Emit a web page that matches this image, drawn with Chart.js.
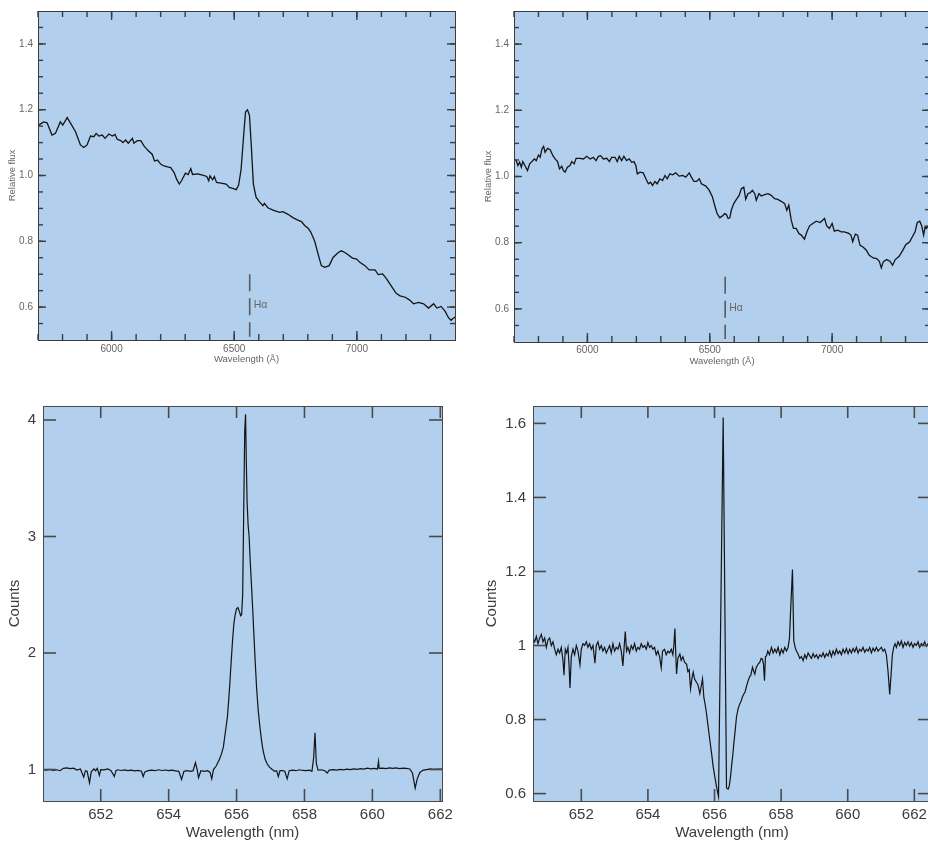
<!DOCTYPE html>
<html><head><meta charset="utf-8">
<script src="https://cdn.jsdelivr.net/npm/chart.js@4/dist/chart.umd.min.js"></script>
<style>
html,body{margin:0;padding:0;background:#fff;overflow:hidden;width:928px;height:845px;position:relative;}
.box{position:absolute;}
canvas{display:block;}
</style></head><body>
<div class="box" style="left:0;top:0"><canvas id="c1" width="464" height="372"></canvas></div>
<div class="box" style="left:464px;top:0"><canvas id="c2" width="475" height="372"></canvas></div>
<div class="box" style="left:0;top:390px"><canvas id="c3" width="464" height="455"></canvas></div>
<div class="box" style="left:464px;top:390px"><canvas id="c4" width="475" height="455"></canvas></div>
<script>
// ---------- DATA ----------
// Top-left: low-resolution spectrum (Angstrom, relative flux)
const tlWave = [5696,5703,5723,5737,5757,5771,5791,5801,5819,5832,
 5853,5873,5887,5900,5914,5928,5937,5948,5962,5973,
 5989,6003,6014,6023,6037,6046,6057,6068,6085,6091,
 6105,6119,6132,6146,6166,6175,6187,6201,6214,6228,
 6241,6255,6265,6276,6285,6301,6312,6323,6330,6351,
 6371,6388,6396,6401,6412,6419,6428,6446,6467,6480,
 6494,6508,6518,6528,6538,6546,6554,6562,6569,6578,
 6589,6603,6617,6623,6637,6658,6685,6699,6719,6739,
 6757,6774,6787,6801,6812,6828,6842,6855,6869,6887,
 6903,6924,6937,6951,6964,6982,6999,7012,7033,7050,
 7074,7087,7105,7121,7142,7160,7176,7197,7214,7231,
 7251,7272,7292,7313,7326,7343,7360,7374,7384,7394,
 7402];
const tlFlux = [1.173,1.153,1.163,1.160,1.123,1.128,1.163,1.153,1.176,1.160,
 1.133,1.093,1.085,1.093,1.120,1.118,1.128,1.120,1.123,1.113,
 1.126,1.120,1.125,1.110,1.106,1.100,1.108,1.098,1.113,1.098,
 1.106,1.106,1.090,1.078,1.064,1.044,1.047,1.034,1.029,1.026,
 1.024,1.009,0.989,0.974,0.984,1.007,1.003,1.021,1.003,1.005,
 1.001,0.997,0.984,0.999,0.987,0.997,0.979,0.977,0.974,0.964,
 0.961,0.957,0.971,1.019,1.118,1.193,1.200,1.183,1.098,0.974,
 0.934,0.920,0.908,0.915,0.902,0.895,0.888,0.890,0.882,0.872,
 0.865,0.860,0.848,0.840,0.828,0.800,0.761,0.726,0.721,0.726,
 0.751,0.766,0.771,0.766,0.759,0.749,0.746,0.736,0.726,0.713,
 0.713,0.699,0.701,0.686,0.662,0.642,0.634,0.630,0.622,0.610,
 0.614,0.610,0.597,0.610,0.597,0.602,0.587,0.567,0.560,0.567,
 0.570];

// Top-right: low-resolution spectrum
const trWave = [5701,5709,5716,5723,5730,5736,5746,5755,5764,5773,
 5783,5791,5800,5807,5814,5821,5827,5837,5848,5859,
 5868,5878,5886,5895,5902,5909,5918,5929,5936,5946,
 5954,5970,5984,5997,6011,6024,6035,6045,6054,6065,
 6079,6090,6099,6113,6122,6130,6140,6149,6160,6171,
 6181,6190,6198,6204,6215,6228,6239,6249,6258,6266,
 6276,6285,6296,6307,6317,6326,6337,6348,6361,6375,
 6389,6402,6416,6425,6435,6446,6457,6466,6484,6498,
 6511,6520,6530,6541,6552,6561,6568,6575,6582,6588,
 6598,6609,6620,6629,6639,6647,6656,6666,6674,6684,
 6690,6701,6711,6724,6738,6751,6765,6778,6792,6806,
 6815,6823,6833,6842,6853,6864,6874,6887,6897,6908,
 6921,6935,6951,6969,6978,6989,7000,7009,7023,7037,
 7050,7068,7077,7084,7095,7104,7114,7125,7139,7152,
 7168,7182,7193,7201,7209,7223,7236,7247,7258,7274,
 7288,7301,7317,7328,7339,7348,7358,7366,7374,7380,
 7385,7398];
const trFlux = [1.053,1.048,1.033,1.043,1.028,1.045,1.031,1.018,1.038,1.045,
 1.053,1.048,1.065,1.058,1.083,1.091,1.073,1.085,1.081,1.063,
 1.053,1.045,1.023,1.031,1.018,1.013,1.028,1.033,1.045,1.038,
 1.055,1.055,1.053,1.061,1.053,1.058,1.048,1.061,1.063,1.053,
 1.055,1.045,1.058,1.058,1.045,1.061,1.048,1.061,1.048,1.053,
 1.043,1.045,1.033,1.008,1.013,1.011,0.993,0.978,0.983,0.973,
 0.985,0.978,0.993,0.988,1.003,0.993,1.008,1.005,1.011,1.001,
 1.003,0.998,1.011,0.998,0.985,0.985,0.993,0.978,0.971,0.958,
 0.938,0.913,0.888,0.875,0.881,0.888,0.885,0.873,0.875,0.898,
 0.918,0.931,0.943,0.963,0.968,0.931,0.948,0.951,0.958,0.948,
 0.928,0.948,0.941,0.945,0.948,0.943,0.933,0.931,0.925,0.918,
 0.898,0.913,0.868,0.843,0.843,0.828,0.823,0.811,0.833,0.851,
 0.858,0.865,0.861,0.873,0.851,0.843,0.858,0.835,0.838,0.833,
 0.833,0.828,0.823,0.803,0.826,0.823,0.792,0.788,0.778,0.762,
 0.754,0.752,0.744,0.724,0.742,0.749,0.744,0.732,0.749,0.759,
 0.776,0.794,0.803,0.818,0.833,0.861,0.865,0.851,0.823,0.848,
 0.843,0.855];

// Bottom-left: high-resolution spectrum (nm, counts)
const blWave = [650.3,650.4,650.5,650.6,650.7,650.8,650.9,651.0,651.1,651.2,
 651.3,651.4,651.45,651.5,651.55,651.6,651.67,651.72,651.8,651.85,
 651.9,651.96,652.0,652.1,652.2,652.3,652.4,652.45,652.5,652.6,
 652.7,652.8,652.9,653.0,653.1,653.2,653.25,653.3,653.4,653.5,
 653.6,653.7,653.8,653.9,654.0,654.1,654.2,654.3,654.38,654.45,
 654.55,654.65,654.72,654.79,654.84,654.88,654.95,655.05,655.15,655.22,
 655.27,655.32,655.4,655.45,655.5,655.55,655.61,655.67,655.73,655.77,
 655.80,655.84,655.88,655.92,655.96,656.00,656.04,656.08,656.12,656.15,
 656.18,656.21,656.24,656.265,656.29,656.31,656.34,656.37,656.40,656.44,
 656.48,656.51,656.55,656.59,656.64,656.69,656.74,656.78,656.84,656.90,
 656.97,657.05,657.12,657.18,657.23,657.28,657.35,657.42,657.49,657.55,
 657.65,657.75,657.85,657.95,658.05,658.15,658.22,658.27,658.31,658.35,
 658.40,658.5,658.6,658.67,658.73,658.85,658.95,659.05,659.15,659.25,
 659.35,659.45,659.55,659.65,659.75,659.85,659.95,660.05,660.15,660.18,
 660.2,660.3,660.4,660.5,660.6,660.7,660.8,660.9,661.0,661.1,
 661.18,661.26,661.32,661.4,661.5,661.6,661.7,661.8,661.9,662.05];
const blCounts = [1.000,0.995,1.002,0.993,0.998,0.990,1.010,1.015,1.008,1.012,
 0.995,1.005,0.97,0.935,0.99,0.985,0.885,0.98,1.005,0.99,
 1.01,0.95,1.00,0.998,1.005,0.992,0.94,0.99,0.998,0.992,
 0.997,0.990,0.995,0.988,0.993,0.985,0.94,0.98,0.99,0.995,
 0.990,0.998,0.992,0.996,0.990,0.995,0.988,0.985,0.915,0.985,
 0.99,0.985,0.99,1.06,1.0,0.93,0.99,0.985,0.99,0.975,
 0.92,1.0,1.03,1.06,1.09,1.13,1.19,1.32,1.45,1.6,
 1.73,1.92,2.10,2.25,2.33,2.38,2.39,2.36,2.32,2.33,
 2.5,3.2,3.9,4.05,3.6,3.30,3.10,3.00,2.80,2.58,
 2.35,2.16,1.92,1.70,1.50,1.36,1.24,1.165,1.09,1.05,
 1.02,1.0,0.985,0.99,0.94,0.99,0.99,0.985,0.92,0.99,
 0.995,0.99,0.998,0.992,0.99,0.995,0.985,1.10,1.315,1.05,
 0.995,0.998,0.99,0.97,0.995,1.0,0.995,1.002,0.998,1.004,
 1.0,1.006,1.002,1.008,1.004,1.012,1.006,1.01,1.005,1.07,
 1.01,1.012,1.008,1.015,1.01,1.014,1.008,1.012,1.01,1.005,
 0.97,0.84,0.92,0.975,0.995,1.0,1.005,1.002,1.004,1.003];

// Bottom-right: high-resolution spectrum (nm, counts)
const brWave = [650.55,650.6,650.65,650.7,650.75,650.8,650.85,650.9,650.95,651.0,
 651.05,651.1,651.15,651.2,651.25,651.3,651.35,651.4,651.45,651.48,
 651.52,651.56,651.6,651.63,651.66,651.7,651.75,651.8,651.85,651.9,
 651.96,652.0,652.05,652.1,652.15,652.2,652.25,652.3,652.35,652.41,
 652.45,652.5,652.55,652.6,652.65,652.7,652.75,652.8,652.85,652.9,
 652.95,653.0,653.05,653.1,653.15,653.2,653.25,653.29,653.32,653.36,
 653.4,653.45,653.5,653.55,653.6,653.65,653.7,653.75,653.8,653.85,
 653.9,653.95,654.0,654.05,654.1,654.15,654.2,654.25,654.3,654.35,
 654.4,654.44,654.5,654.55,654.6,654.65,654.7,654.75,654.78,654.81,
 654.84,654.86,654.9,654.96,655.0,655.05,655.1,655.16,655.2,655.24,
 655.28,655.32,655.36,655.4,655.46,655.5,655.56,655.6,655.64,655.68,
 655.72,655.76,655.81,655.86,655.91,655.96,656.01,656.06,656.12,656.26,
 656.36,656.41,656.44,656.48,
 656.51,656.55,656.58,656.62,656.66,656.71,656.76,656.8,656.84,656.88,
 656.92,656.96,657.01,657.05,657.09,657.14,657.18,657.21,657.25,657.31,
 657.36,657.4,657.44,657.47,657.50,657.53,657.56,657.6,657.65,657.71,
 657.76,657.81,657.86,657.91,657.96,658.01,658.06,658.11,658.16,658.21,
 658.25,658.28,658.34,658.38,658.42,658.46,658.51,658.56,658.61,658.66,
 658.71,658.76,658.81,658.86,658.91,658.96,659.01,659.06,659.11,659.16,
 659.21,659.26,659.31,659.36,659.41,659.46,659.51,659.56,659.61,659.66,
 659.71,659.76,659.81,659.86,659.91,659.96,660.01,660.06,660.11,660.16,
 660.21,660.26,660.31,660.36,660.41,660.46,660.51,660.56,660.61,660.66,
 660.71,660.76,660.81,660.86,660.91,660.96,661.01,661.06,661.11,661.16,
 661.21,661.26,661.3,661.34,661.38,661.42,661.46,661.51,661.56,661.61,
 661.66,661.71,661.76,661.81,661.86,661.91,661.96,662.01,662.06,662.11,
 662.16,662.21,662.26,662.31,662.36,662.41,662.46,662.5];
const brCounts = [1.02,1.01,1.025,1.005,1.02,1.03,1.01,1.02,0.995,1.015,
 1.02,1.0,1.01,0.99,0.975,0.99,0.98,0.995,0.96,0.92,
 0.99,0.98,0.995,0.95,0.885,0.97,0.99,0.975,1.0,0.985,
 0.948,0.99,1.005,1.0,1.01,0.995,1.005,0.99,1.0,0.952,
 1.0,1.01,0.99,1.0,0.985,0.995,0.98,0.99,1.0,0.98,
 1.005,0.985,0.995,0.99,1.005,0.985,0.945,1.0,1.038,0.985,
 0.995,0.98,1.0,0.99,1.005,0.985,0.995,0.99,1.005,0.995,
 1.0,0.99,1.008,0.995,1.0,0.99,0.995,0.975,0.985,0.97,
 0.94,0.985,0.99,0.975,0.985,0.98,0.99,0.975,1.0,1.046,
 0.97,0.923,0.965,0.977,0.96,0.97,0.955,0.95,0.93,0.935,
 0.883,0.91,0.928,0.91,0.90,0.895,0.87,0.89,0.91,0.86,
 0.84,0.816,0.78,0.744,0.71,0.673,0.645,0.619,0.592,1.616,
 0.615,0.612,0.619,0.645,
 0.673,0.705,0.735,0.77,0.807,0.83,0.843,0.85,0.862,0.869,
 0.875,0.89,0.905,0.915,0.92,0.941,0.93,0.923,0.94,0.95,
 0.955,0.965,0.963,0.95,0.905,0.97,0.972,0.985,0.975,0.995,
 0.98,0.99,0.981,0.995,0.975,0.99,0.98,0.995,0.985,0.995,
 1.02,1.084,1.205,1.013,0.995,0.985,0.977,0.965,0.97,0.959,
 0.975,0.965,0.98,0.972,0.965,0.978,0.968,0.975,0.965,0.975,
 0.97,0.98,0.968,0.978,0.972,0.985,0.97,0.985,0.975,0.99,
 0.978,0.985,0.975,0.99,0.98,0.992,0.978,0.99,0.98,0.992,
 0.983,0.995,0.98,0.99,0.985,0.995,0.982,0.99,0.985,0.995,
 0.98,0.993,0.985,0.995,0.985,0.99,0.995,0.985,0.99,0.975,
 0.93,0.868,0.92,0.975,0.995,1.005,0.995,1.01,1.0,1.012,
 0.995,1.008,1.0,1.01,0.998,1.008,0.995,1.005,1.0,1.01,
 0.995,1.005,1.0,1.01,0.998,1.005,1.0,1.005];

// Tick values and labels
const topXTicks = [6000, 6500, 7000];
const topXLabels = ['6000', '6500', '7000'];
const topYTicks = [0.6, 0.8, 1.0, 1.2, 1.4];
const topYLabels = ['0.6', '0.8', '1.0', '1.2', '1.4'];
const botXTicks = [652, 654, 656, 658, 660, 662];
const botXLabels = ['652', '654', '656', '658', '660', '662'];
const blYTicks = [1, 2, 3, 4];
const blYLabels = ['1', '2', '3', '4'];
const brYTicks = [0.6, 0.8, 1.0, 1.2, 1.4, 1.6];
const brYLabels = ['0.6', '0.8', '1', '1.2', '1.4', '1.6'];

// H-alpha marker (wavelength, flux span, label)
const hAlphaWave = 6563;
const hAlphaSpanLeft = [0.70, 0.51];
const hAlphaSpanRight = [0.697, 0.509];
const hAlphaLabel = 'H\u03b1';

// ---------- RENDERING ----------
Chart.defaults.font.family = "'Liberation Sans', Arial, Helvetica, sans-serif";
const BG = '#b3cfee';

const framePlugin = {
  id: 'frame',
  beforeDraw(chart, args, o) {
    const {ctx, chartArea: a} = chart;
    ctx.save();
    ctx.fillStyle = BG;
    ctx.fillRect(a.left, a.top, a.right - a.left, a.bottom - a.top);
    ctx.restore();
  },
  afterDraw(chart, args, o) {
    const {ctx, chartArea: a, scales} = chart;
    const xs = scales.x, ys = scales.y;
    ctx.save();
    ctx.strokeStyle = o.tickColor;
    ctx.lineWidth = o.tickWidth;
    const tx = (v, len) => {
      const p = xs.getPixelForValue(v);
      ctx.beginPath(); ctx.moveTo(p, a.bottom); ctx.lineTo(p, a.bottom - len); ctx.stroke();
      ctx.beginPath(); ctx.moveTo(p, a.top); ctx.lineTo(p, a.top + len); ctx.stroke();
    };
    const ty = (v, len) => {
      const p = ys.getPixelForValue(v);
      ctx.beginPath(); ctx.moveTo(a.left, p); ctx.lineTo(a.left + len, p); ctx.stroke();
      ctx.beginPath(); ctx.moveTo(a.right, p); ctx.lineTo(a.right - len, p); ctx.stroke();
    };
    if (o.xMinorStep) {
      for (let v = Math.ceil(xs.min / o.xMinorStep) * o.xMinorStep; v < xs.max; v += o.xMinorStep) tx(v, o.xMinorLen);
    }
    if (o.yMinorStep) {
      for (let k = Math.ceil(ys.min / o.yMinorStep + 1e-6); k * o.yMinorStep < ys.max - 1e-6; k++) ty(k * o.yMinorStep, o.yMinorLen);
    }
    o.xMajor.forEach(v => tx(v, o.xMajorLen));
    o.yMajor.forEach(v => ty(v, o.yMajorLen));
    ctx.strokeStyle = o.borderColor;
    ctx.lineWidth = 1;
    ctx.strokeRect(Math.round(a.left) + 0.5, Math.round(a.top) + 0.5, Math.round(a.right - a.left), Math.round(a.bottom - a.top));
    if (o.label) {
      ctx.fillStyle = o.label.color;
      ctx.font = o.label.font;
      ctx.textBaseline = 'middle';
      ctx.textAlign = 'left';
      ctx.fillText(o.label.text, xs.getPixelForValue(o.label.x) + 4, ys.getPixelForValue(o.label.y));
    }
    ctx.restore();
  }
};
Chart.register(framePlugin);

function pts(xs, ys) { return xs.map((x, i) => ({x, y: ys[i]})); }

function makeChart(id, c) {
  const datasets = [{
    data: pts(c.wave, c.vals), showLine: true, pointRadius: 0,
    borderColor: '#141414', borderWidth: c.lw, tension: 0
  }];
  if (c.marker) {
    datasets.push({
      data: [{x: c.marker.x, y: c.marker.span[0]}, {x: c.marker.x, y: c.marker.span[1]}],
      showLine: true, pointRadius: 0, borderColor: '#5a5a5a', borderWidth: 1.6,
      borderDash: [17, 7], tension: 0
    });
  }
  return new Chart(document.getElementById(id), {
    type: 'scatter',
    data: {datasets},
    options: {
      responsive: false, animation: false, devicePixelRatio: 1,
      layout: {padding: c.pad},
      plugins: {
        legend: {display: false}, tooltip: {enabled: false},
        frame: c.frame
      },
      scales: {
        x: {
          type: 'linear', min: c.xmin, max: c.xmax,
          afterFit: s => { s.height = c.xh; },
          afterBuildTicks: s => { s.ticks = c.xt.map(v => ({value: v})); },
          grid: {display: false, drawTicks: false}, border: {display: false},
          ticks: {autoSkip: false, maxRotation: 0, padding: c.xtp, color: c.tc,
            font: {size: c.tfs}, callback: v => c.xl[c.xt.indexOf(v)]},
          title: {display: true, text: c.xtitle, color: c.tc, font: {size: c.afs},
            padding: {top: 0, bottom: c.xtitlePad}}
        },
        y: {
          type: 'linear', min: c.ymin, max: c.ymax,
          afterFit: s => { s.width = c.yw; },
          afterBuildTicks: s => { s.ticks = c.yt.map(v => ({value: v})); },
          grid: {display: false, drawTicks: false}, border: {display: false},
          ticks: {autoSkip: false, padding: c.ytp, color: c.tc,
            font: {size: c.tfs}, callback: v => c.yl[c.yt.indexOf(v)]},
          title: {display: true, text: c.ytitle, color: c.tc, font: {size: c.afs},
            padding: {top: c.ytitlePad, bottom: 0}}
        }
      }
    }
  });
}

const topFrame = (lab) => ({
  tickColor: '#3c3c3c', tickWidth: 1.4, borderColor: '#3c3c3c',
  xMajor: topXTicks, yMajor: topYTicks, xMajorLen: 9, yMajorLen: 8,
  xMinorStep: 100, xMinorLen: 6, yMinorStep: 0.05, yMinorLen: 5,
  label: lab
});

makeChart('c1', {
  wave: tlWave, vals: tlFlux, lw: 1.3,
  marker: {x: hAlphaWave, span: hAlphaSpanLeft},
  pad: {top: 6, right: 9, left: 0, bottom: 0},
  xmin: 5700, xmax: 7400, ymin: 0.5, ymax: 1.5,
  xh: 32, yw: 38, xt: topXTicks, xl: topXLabels, yt: topYTicks, yl: topYLabels,
  xtp: 3, ytp: 5, tc: '#666', tfs: 10, afs: 9.5,
  xtitle: 'Wavelength (\u00c5)', ytitle: 'Relative flux', xtitlePad: 7, ytitlePad: 7,
  frame: topFrame({text: hAlphaLabel, x: hAlphaWave, y: 0.606, color: '#666', font: "10.5px 'Liberation Sans', Arial, sans-serif"})
});

makeChart('c2', {
  wave: trWave, vals: trFlux, lw: 1.3,
  marker: {x: hAlphaWave, span: hAlphaSpanRight},
  pad: {top: 6, right: 9, left: 0, bottom: 0},
  xmin: 5700, xmax: 7400, ymin: 0.5, ymax: 1.5,
  xh: 30, yw: 50, xt: topXTicks, xl: topXLabels, yt: topYTicks, yl: topYLabels,
  xtp: 2, ytp: 5, tc: '#666', tfs: 10, afs: 9.5,
  xtitle: 'Wavelength (\u00c5)', ytitle: 'Relative flux', xtitlePad: 5, ytitlePad: 19,
  frame: topFrame({text: hAlphaLabel, x: hAlphaWave, y: 0.602, color: '#666', font: "10.5px 'Liberation Sans', Arial, sans-serif"})
});

makeChart('c3', {
  wave: blWave, vals: blCounts, lw: 1.2,
  pad: {top: 13, right: 22, left: 0, bottom: 0},
  xmin: 650.3, xmax: 662.05, ymin: 0.73, ymax: 4.12,
  xh: 44, yw: 43, xt: botXTicks, xl: botXLabels, yt: blYTicks, yl: blYLabels,
  xtp: 5, ytp: 7, tc: '#3c3c3c', tfs: 15, afs: 15,
  xtitle: 'Wavelength (nm)', ytitle: 'Counts', xtitlePad: 3, ytitlePad: 6,
  frame: {tickColor: '#4a4a4a', tickWidth: 1.6, borderColor: '#4a4a4a',
    xMajor: botXTicks, yMajor: blYTicks, xMajorLen: 12, yMajorLen: 13}
});

makeChart('c4', {
  wave: brWave, vals: brCounts, lw: 1.2,
  pad: {top: 13, right: 8, left: 0, bottom: 0},
  xmin: 650.55, xmax: 662.5, ymin: 0.58, ymax: 1.647,
  xh: 44, yw: 69, xt: botXTicks, xl: botXLabels, yt: brYTicks, yl: brYLabels,
  xtp: 5, ytp: 7, tc: '#3c3c3c', tfs: 15, afs: 15,
  xtitle: 'Wavelength (nm)', ytitle: 'Counts', xtitlePad: 3, ytitlePad: 19,
  frame: {tickColor: '#4a4a4a', tickWidth: 1.6, borderColor: '#4a4a4a',
    xMajor: botXTicks, yMajor: brYTicks, xMajorLen: 12, yMajorLen: 13}
});
</script>
</body></html>
